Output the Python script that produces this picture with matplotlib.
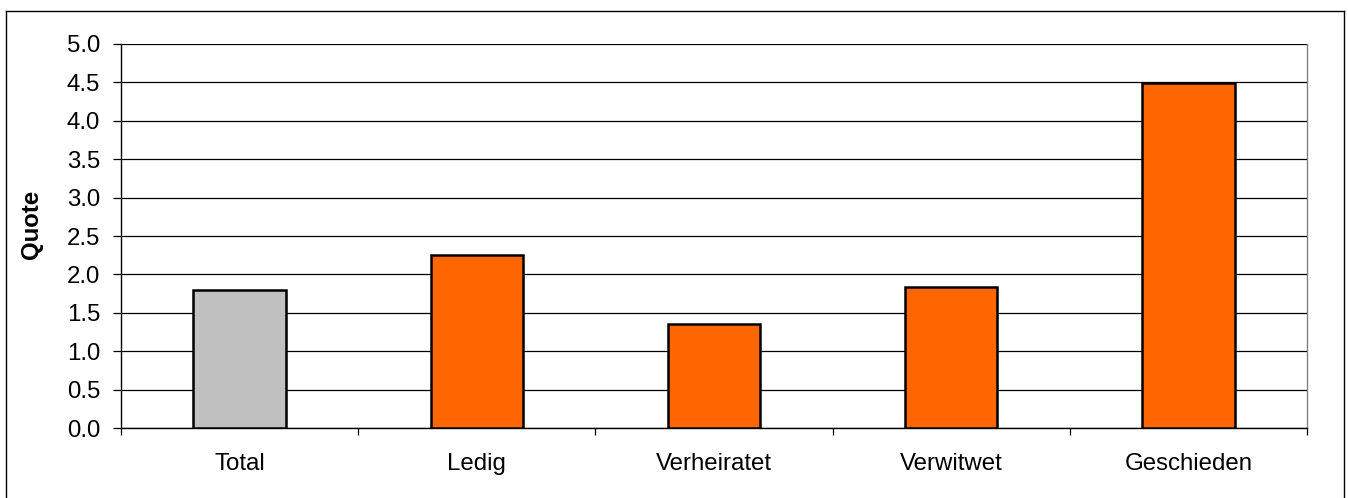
import matplotlib
matplotlib.use("Agg")
import matplotlib.pyplot as plt
from matplotlib.lines import Line2D

categories = ["Total", "Ledig", "Verheiratet", "Verwitwet", "Geschieden"]
values = [1.80, 2.25, 1.35, 1.83, 4.49]
colors = ["#C0C0C0", "#FF6600", "#FF6600", "#FF6600", "#FF6600"]
yticks = [0.0, 0.5, 1.0, 1.5, 2.0, 2.5, 3.0, 3.5, 4.0, 4.5, 5.0]

plt.rcParams['font.family'] = ['Liberation Sans', 'DejaVu Sans']

fig = plt.figure(figsize=(13.48, 4.98), dpi=100)
W, H = 1348, 498
ax = fig.add_axes([121 / W, 1 - 428 / H, (1307 - 121) / W, (428 - 44) / H])

x = list(range(len(categories)))
ax.bar(x, values, width=0.39, color=colors, edgecolor="black", linewidth=1.8, zorder=3)

ax.set_xlim(-0.5, len(categories) - 0.5)
ax.set_ylim(0, 5.0)
ax.set_yticks(yticks)
ax.set_yticklabels([f"{v:.1f}" for v in yticks], fontsize=17.3)
ax.yaxis.grid(True, color="black", linewidth=0.9, zorder=0)

ax.set_xticks(x)
ax.set_xticklabels(categories, fontsize=17.3)
ax.tick_params(axis="x", which="major", length=0, pad=18)
ax.set_xticks([i - 0.5 for i in range(len(categories) + 1)], minor=True)
ax.tick_params(axis="x", which="minor", length=5, width=0.9, direction="out", color="black")
ax.tick_params(axis="y", length=6, width=0.9, direction="out", pad=9)

ax.spines["top"].set_visible(False)
ax.spines["right"].set_color("#808080")
ax.spines["left"].set_linewidth(1.0)
ax.spines["bottom"].set_linewidth(1.0)
ax.spines["right"].set_linewidth(1.0)

ax.set_ylabel("Quote", fontsize=17.3, fontweight="bold")
ax.yaxis.set_label_coords(-0.0658, 0.53)

# outer chart border
bx0, bx1, by0 = 5.5 / W, 1343.5 / W, 1 - 11 / H
fig.add_artist(Line2D([bx0, bx0], [-0.1, by0], transform=fig.transFigure, color="black", linewidth=1.0))
fig.add_artist(Line2D([bx1, bx1], [-0.1, by0], transform=fig.transFigure, color="black", linewidth=1.0))
fig.add_artist(Line2D([bx0, bx1], [by0, by0], transform=fig.transFigure, color="black", linewidth=1.0))

fig.savefig("out.png", dpi=100)
